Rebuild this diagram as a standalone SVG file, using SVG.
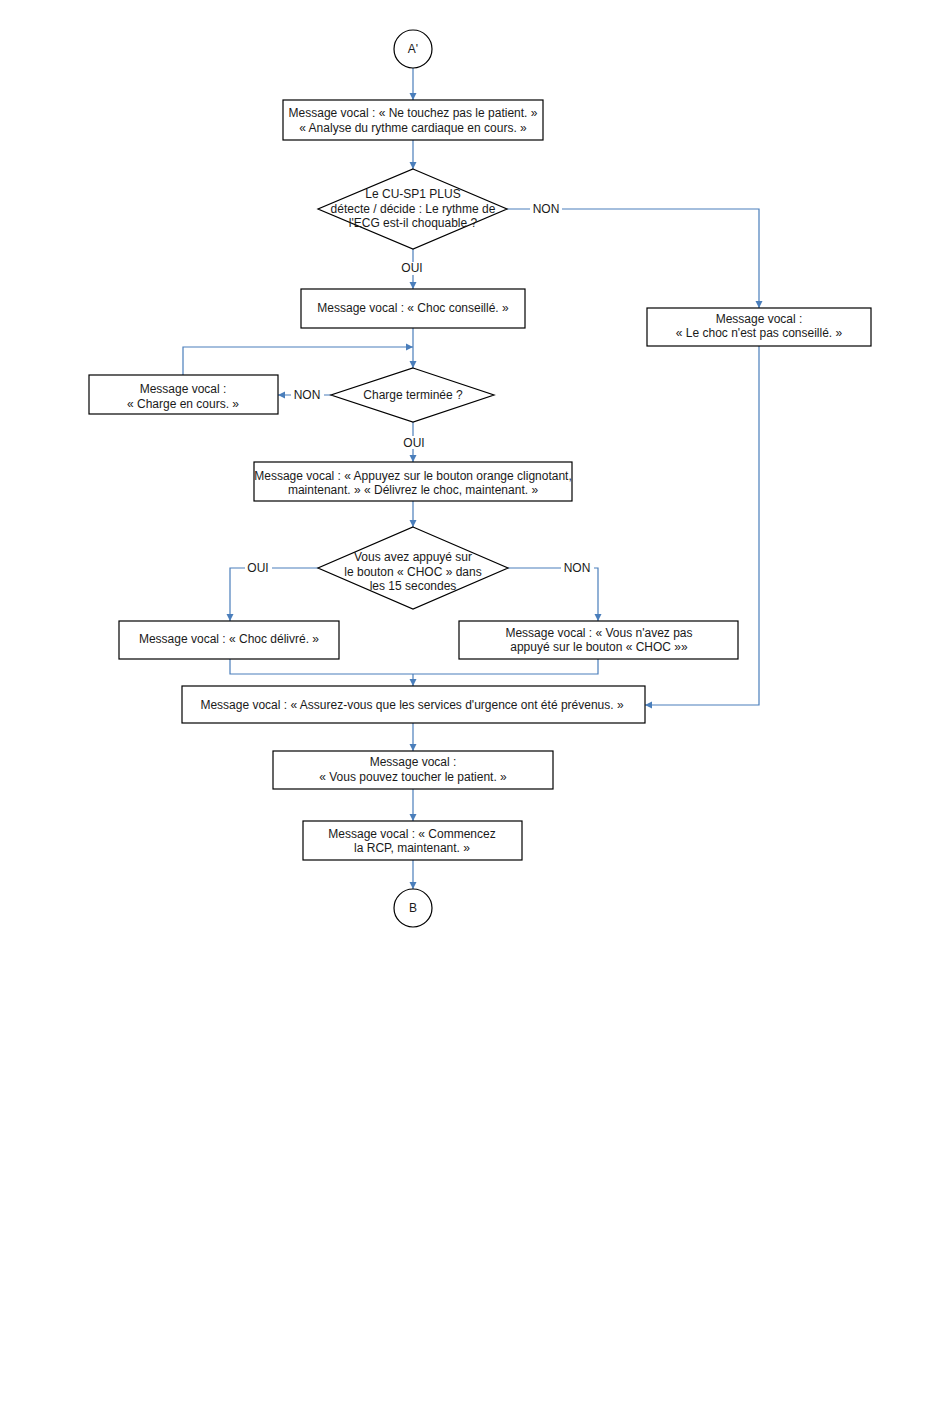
<svg xmlns="http://www.w3.org/2000/svg" width="950" height="1419" viewBox="0 0 950 1419">
<style>
.n{fill:#fff;stroke:#000;stroke-width:1.2}
.t{font-family:"Liberation Sans",Arial,sans-serif;font-size:12px;fill:#1a1a1a;text-anchor:middle;dominant-baseline:central}
.c{fill:none;stroke:#4a7ebb;stroke-width:1.2}
.lb{fill:#fff}
</style>
<defs>
<marker id="ah" markerWidth="8" markerHeight="8" refX="7" refY="4" orient="auto" markerUnits="userSpaceOnUse">
<path d="M0,0.5 L7,4 L0,7.5 Z" fill="#4a7ebb"/>
</marker>
</defs>
<rect width="950" height="1419" fill="#fff"/>
<g id="connectors">
<path class="c" d="M413,68 V100" marker-end="url(#ah)"/>
<path class="c" d="M413,140 V169" marker-end="url(#ah)"/>
<path class="c" d="M507,209 H759 V308" marker-end="url(#ah)"/>
<path class="c" d="M413,249 V289" marker-end="url(#ah)"/>
<path class="c" d="M413,328 V368" marker-end="url(#ah)"/>
<path class="c" d="M183,375 V347 H413" marker-end="url(#ah)"/>
<path class="c" d="M331,395 H278" marker-end="url(#ah)"/>
<path class="c" d="M413,422 V462" marker-end="url(#ah)"/>
<path class="c" d="M413,501 V527" marker-end="url(#ah)"/>
<path class="c" d="M318,568 H230 V621" marker-end="url(#ah)"/>
<path class="c" d="M508,568 H598 V621" marker-end="url(#ah)"/>
<path class="c" d="M230,659 V674 H598 V659"/>
<path class="c" d="M413,674 V686" marker-end="url(#ah)"/>
<path class="c" d="M759,346 V705 H645" marker-end="url(#ah)"/>
<path class="c" d="M413,723 V751" marker-end="url(#ah)"/>
<path class="c" d="M413,789 V821" marker-end="url(#ah)"/>
<path class="c" d="M413,860 V889" marker-end="url(#ah)"/>
<rect class="lb" x="530" y="202" width="32" height="14"/>
<text class="t" x="546" y="209">NON</text>
<rect class="lb" x="399" y="262" width="28" height="13"/>
<text class="t" x="412" y="268">OUI</text>
<rect class="lb" x="291" y="388" width="33" height="14"/>
<text class="t" x="307" y="395">NON</text>
<rect class="lb" x="400" y="436" width="28" height="13"/>
<text class="t" x="414" y="443">OUI</text>
<rect class="lb" x="245" y="561" width="27" height="14"/>
<text class="t" x="258" y="568">OUI</text>
<rect class="lb" x="561" y="561" width="33" height="14"/>
<text class="t" x="577" y="568">NON</text>
</g>
<g id="startA">
<circle class="n" cx="413" cy="49" r="19"/>
<text class="t" x="413" y="49">A'</text>
</g>
<g id="msg1">
<rect class="n" x="283" y="100" width="260" height="40"/>
<text class="t" x="413" y="113">Message vocal : « Ne touchez pas le patient. »</text>
<text class="t" x="413" y="128">« Analyse du rythme cardiaque en cours. »</text>
</g>
<g id="dec1">
<polygon class="n" points="413,169 507,209 413,249 318,209"/>
<text class="t" x="413" y="194">Le CU-SP1 PLUS</text>
<text class="t" x="413" y="209">détecte / décide : Le rythme de</text>
<text class="t" x="413" y="223">l'ECG est-il choquable ?</text>
</g>
<g id="msgChocConseille">
<rect class="n" x="301" y="289" width="224" height="39"/>
<text class="t" x="413" y="308">Message vocal : « Choc conseillé. »</text>
</g>
<g id="msgPasConseille">
<rect class="n" x="647" y="308" width="224" height="38"/>
<text class="t" x="759" y="319">Message vocal :</text>
<text class="t" x="759" y="333">« Le choc n'est pas conseillé. »</text>
</g>
<g id="dec2">
<polygon class="n" points="413,368 494,395 413,422 331,395"/>
<text class="t" x="413" y="395">Charge terminée ?</text>
</g>
<g id="msgCharge">
<rect class="n" x="89" y="375" width="189" height="39"/>
<text class="t" x="183" y="389">Message vocal :</text>
<text class="t" x="183" y="404">« Charge en cours. »</text>
</g>
<g id="msgAppuyez">
<rect class="n" x="254" y="462" width="318" height="39"/>
<text class="t" x="413" y="476">Message vocal : « Appuyez sur le bouton orange clignotant,</text>
<text class="t" x="413" y="490">maintenant. » « Délivrez le choc, maintenant. »</text>
</g>
<g id="dec3">
<polygon class="n" points="413,527 508,568 413,609 318,568"/>
<text class="t" x="413" y="557">Vous avez appuyé sur</text>
<text class="t" x="413" y="572">le bouton « CHOC » dans</text>
<text class="t" x="413" y="586">les 15 secondes</text>
</g>
<g id="msgDelivre">
<rect class="n" x="119" y="621" width="220" height="38"/>
<text class="t" x="229" y="639">Message vocal : « Choc délivré. »</text>
</g>
<g id="msgPasAppuye">
<rect class="n" x="459" y="621" width="279" height="38"/>
<text class="t" x="599" y="633">Message vocal : « Vous n'avez pas</text>
<text class="t" x="599" y="647">appuyé sur le bouton « CHOC »»</text>
</g>
<g id="msgAssurez">
<rect class="n" x="182" y="686" width="463" height="37"/>
<text class="t" x="412" y="705">Message vocal : « Assurez-vous que les services d'urgence ont été prévenus. »</text>
</g>
<g id="msgToucher">
<rect class="n" x="273" y="751" width="280" height="38"/>
<text class="t" x="413" y="762">Message vocal :</text>
<text class="t" x="413" y="777">« Vous pouvez toucher le patient. »</text>
</g>
<g id="msgRCP">
<rect class="n" x="303" y="821" width="219" height="39"/>
<text class="t" x="412" y="834">Message vocal : « Commencez</text>
<text class="t" x="412" y="848">la RCP, maintenant. »</text>
</g>
<g id="endB">
<circle class="n" cx="413" cy="908" r="19"/>
<text class="t" x="413" y="908">B</text>
</g>
</svg>
